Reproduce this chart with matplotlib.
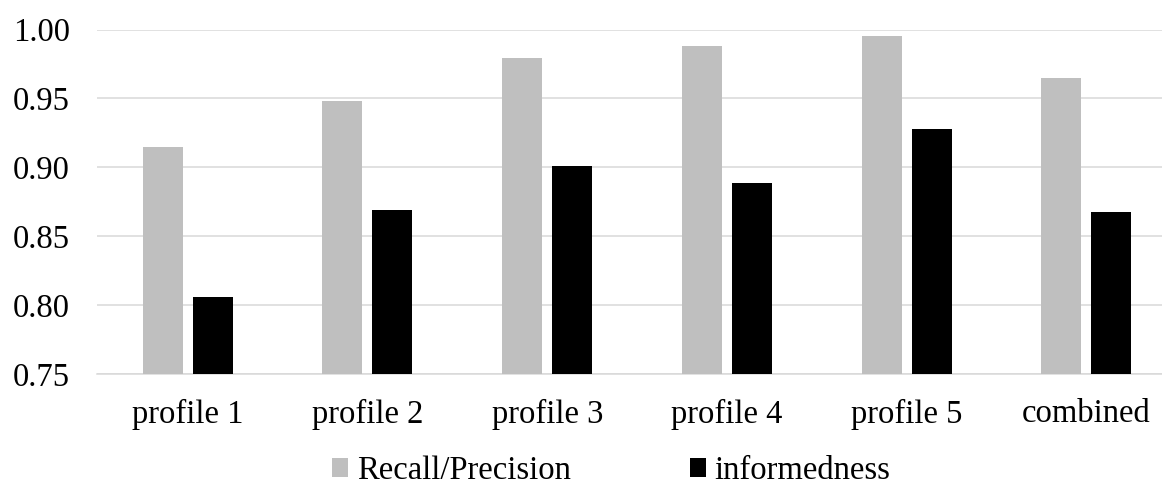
import matplotlib
matplotlib.use("Agg")
import matplotlib.pyplot as plt
import numpy as np

categories = ["profile 1", "profile 2", "profile 3", "profile 4", "profile 5", "combined"]
recall_precision = [0.915, 0.948, 0.979, 0.988, 0.995, 0.965]
informedness = [0.806, 0.869, 0.901, 0.889, 0.928, 0.868]
series_names = ["Recall/Precision", "informedness"]
yticks = [0.75, 0.80, 0.85, 0.90, 0.95, 1.00]

plt.rcParams['font.family'] = ['Liberation Serif', 'DejaVu Serif']
FS = 23.5

W, H = 1162, 490
fig = plt.figure(figsize=(W / 100, H / 100), dpi=100)
left_px, right_px = 97, 1162
bottom_px, top_px = 374.3, 29.5
ax = fig.add_axes([left_px / W, 1 - bottom_px / H, (right_px - left_px) / W, (bottom_px - top_px) / H])

x = np.arange(len(categories))
bw = 0.2226
off = 0.139
ax.bar(x - off, recall_precision, width=bw, color="#bfbfbf", label=series_names[0], zorder=3)
ax.bar(x + off, informedness, width=bw, color="#000000", label=series_names[1], zorder=3)

ax.set_ylim(0.75, 1.00)
ax.set_xlim(-0.505, 5.421)
ax.set_yticks(yticks)
ax.set_yticklabels([f"{v:.2f}" for v in yticks])
ax.set_xticks(x)
ax.set_xticklabels(categories)
ax.yaxis.grid(True, color="#d9d9d9", linewidth=1.1, zorder=0)
ax.set_axisbelow(True)
for s in ["top", "right", "left"]:
    ax.spines[s].set_visible(False)
ax.spines["bottom"].set_color("#d9d9d9")
ax.spines["bottom"].set_linewidth(1.1)
ax.tick_params(axis="y", length=0, pad=19.4, labelsize=FS, colors="#000000")
ax.tick_params(axis="x", length=0, pad=17.5, labelsize=FS, colors="#000000")

fs_px = FS * 100 / 72
fig.legend(loc="center", bbox_to_anchor=(611 / W, 1 - 471 / H), ncol=2, frameon=False,
           fontsize=FS, handlelength=16 / fs_px, handleheight=16 / fs_px,
           handletextpad=9 / fs_px, columnspacing=119 / fs_px, borderpad=0, borderaxespad=0)

fig.savefig("out.png", dpi=100)
